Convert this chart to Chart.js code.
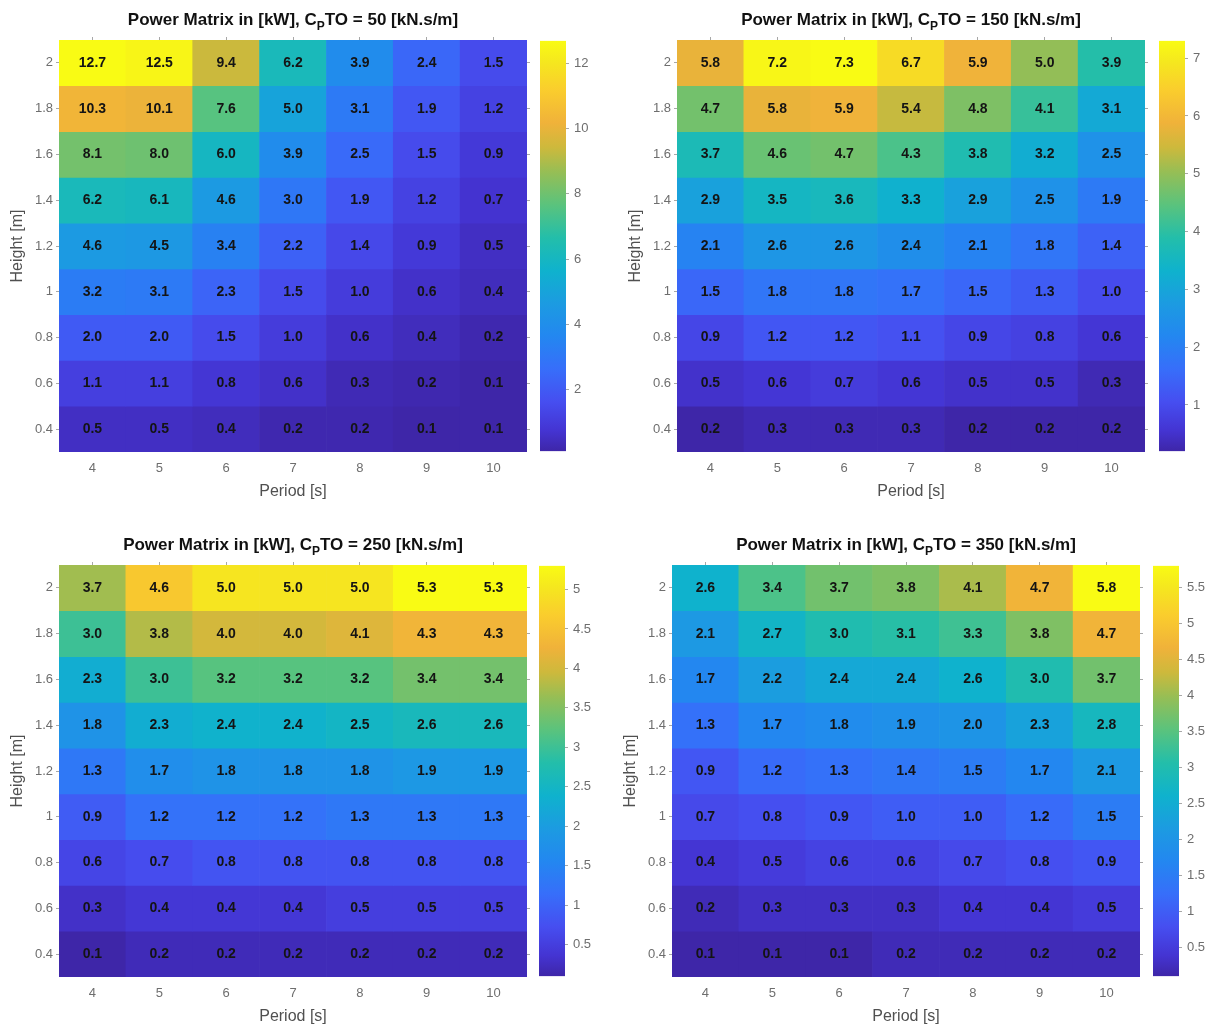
<!DOCTYPE html>
<html>
<head>
<meta charset="utf-8">
<title>Power Matrix</title>
<script src="https://cdn.jsdelivr.net/npm/chart.js@4/dist/chart.umd.min.js"></script>
<style>
  html, body { margin: 0; padding: 0; background: #fff; }
  body { width: 1215px; height: 1026px; position: relative; overflow: hidden; }
  canvas { position: absolute; }
</style>
</head>
<body>
<script>
// --- data (rows go from the top of the matrix down) ---
const periods = [4, 5, 6, 7, 8, 9, 10];
const heights = [2, 1.8, 1.6, 1.4, 1.2, 1, 0.8, 0.6, 0.4];

const power50 = [
  [12.7, 12.5, 9.4, 6.2, 3.9, 2.4, 1.5],
  [10.3, 10.1, 7.6, 5.0, 3.1, 1.9, 1.2],
  [8.1, 8.0, 6.0, 3.9, 2.5, 1.5, 0.9],
  [6.2, 6.1, 4.6, 3.0, 1.9, 1.2, 0.7],
  [4.6, 4.5, 3.4, 2.2, 1.4, 0.9, 0.5],
  [3.2, 3.1, 2.3, 1.5, 1.0, 0.6, 0.4],
  [2.0, 2.0, 1.5, 1.0, 0.6, 0.4, 0.2],
  [1.1, 1.1, 0.8, 0.6, 0.3, 0.2, 0.1],
  [0.5, 0.5, 0.4, 0.2, 0.2, 0.1, 0.1]
];
const power150 = [
  [5.8, 7.2, 7.3, 6.7, 5.9, 5.0, 3.9],
  [4.7, 5.8, 5.9, 5.4, 4.8, 4.1, 3.1],
  [3.7, 4.6, 4.7, 4.3, 3.8, 3.2, 2.5],
  [2.9, 3.5, 3.6, 3.3, 2.9, 2.5, 1.9],
  [2.1, 2.6, 2.6, 2.4, 2.1, 1.8, 1.4],
  [1.5, 1.8, 1.8, 1.7, 1.5, 1.3, 1.0],
  [0.9, 1.2, 1.2, 1.1, 0.9, 0.8, 0.6],
  [0.5, 0.6, 0.7, 0.6, 0.5, 0.5, 0.3],
  [0.2, 0.3, 0.3, 0.3, 0.2, 0.2, 0.2]
];
const power250 = [
  [3.7, 4.6, 5.0, 5.0, 5.0, 5.3, 5.3],
  [3.0, 3.8, 4.0, 4.0, 4.1, 4.3, 4.3],
  [2.3, 3.0, 3.2, 3.2, 3.2, 3.4, 3.4],
  [1.8, 2.3, 2.4, 2.4, 2.5, 2.6, 2.6],
  [1.3, 1.7, 1.8, 1.8, 1.8, 1.9, 1.9],
  [0.9, 1.2, 1.2, 1.2, 1.3, 1.3, 1.3],
  [0.6, 0.7, 0.8, 0.8, 0.8, 0.8, 0.8],
  [0.3, 0.4, 0.4, 0.4, 0.5, 0.5, 0.5],
  [0.1, 0.2, 0.2, 0.2, 0.2, 0.2, 0.2]
];
const power350 = [
  [2.6, 3.4, 3.7, 3.8, 4.1, 4.7, 5.8],
  [2.1, 2.7, 3.0, 3.1, 3.3, 3.8, 4.7],
  [1.7, 2.2, 2.4, 2.4, 2.6, 3.0, 3.7],
  [1.3, 1.7, 1.8, 1.9, 2.0, 2.3, 2.8],
  [0.9, 1.2, 1.3, 1.4, 1.5, 1.7, 2.1],
  [0.7, 0.8, 0.9, 1.0, 1.0, 1.2, 1.5],
  [0.4, 0.5, 0.6, 0.6, 0.7, 0.8, 0.9],
  [0.2, 0.3, 0.3, 0.3, 0.4, 0.4, 0.5],
  [0.1, 0.1, 0.1, 0.2, 0.2, 0.2, 0.2]
];

const cbarTicks50 = [2, 4, 6, 8, 10, 12];
const cbarTicks150 = [1, 2, 3, 4, 5, 6, 7];
const cbarTicks250 = [0.5, 1, 1.5, 2, 2.5, 3, 3.5, 4, 4.5, 5];
const cbarTicks350 = [0.5, 1, 1.5, 2, 2.5, 3, 3.5, 4, 4.5, 5, 5.5];

// parula-like colormap stops
const parulaStops = [
  [0.00, 62, 38, 168], [0.05, 68, 52, 210], [0.12, 70, 78, 240],
  [0.20, 55, 110, 250], [0.28, 35, 135, 240], [0.36, 28, 155, 225],
  [0.44, 15, 178, 205], [0.52, 35, 190, 170], [0.60, 90, 195, 125],
  [0.68, 150, 190, 85], [0.74, 205, 185, 60], [0.80, 240, 178, 58],
  [0.88, 250, 205, 45], [0.95, 245, 232, 30], [1.00, 249, 251, 20]
];

function parula(t) {
  t = Math.max(0, Math.min(1, t));
  for (let i = 1; i < parulaStops.length; i++) {
    const a = parulaStops[i - 1], b = parulaStops[i];
    if (t <= b[0]) {
      const f = (t - a[0]) / (b[0] - a[0]);
      const c = [1, 2, 3].map(k => Math.round(a[k] + (b[k] - a[k]) * f));
      return 'rgb(' + c.join(',') + ')';
    }
  }
  return 'rgb(249,251,20)';
}

const FONT = '"Liberation Sans", Arial, Helvetica, sans-serif';
Chart.defaults.font.family = FONT;

// numbers inside cells
const cellLabels = {
  id: 'cellLabels',
  afterDatasetsDraw(chart) {
    const ctx = chart.ctx;
    ctx.save();
    ctx.font = 'bold 14px ' + FONT;
    ctx.fillStyle = '#141414';
    ctx.textAlign = 'center';
    ctx.textBaseline = 'middle';
    chart.data.datasets.forEach((ds, i) => {
      chart.getDatasetMeta(i).data.forEach((bar, j) => {
        const p = bar.getProps(['x', 'y', 'base'], true);
        ctx.fillText(ds.values[j].toFixed(1), p.x, (p.y + p.base) / 2);
      });
    });
    ctx.restore();
  }
};

// title with the subscript P
const powerTitle = {
  id: 'powerTitle',
  afterDraw(chart, args, opts) {
    const ctx = chart.ctx;
    const a = chart.chartArea;
    const pre = 'Power Matrix in [kW], C', sub = 'P', post = 'TO = ' + opts.cpto + ' [kN.s/m]';
    ctx.save();
    ctx.fillStyle = '#111';
    ctx.textBaseline = 'alphabetic';
    ctx.textAlign = 'left';
    ctx.font = 'bold 17px ' + FONT;
    const w1 = ctx.measureText(pre).width, w3 = ctx.measureText(post).width;
    ctx.font = 'bold 12px ' + FONT;
    const w2 = ctx.measureText(sub).width;
    const x = (a.left + a.right) / 2 - (w1 + w2 + w3) / 2;
    const y = a.top - 15;
    ctx.font = 'bold 17px ' + FONT;
    ctx.fillText(pre, x, y);
    ctx.font = 'bold 12px ' + FONT;
    ctx.fillText(sub, x + w1, y + 5);
    ctx.font = 'bold 17px ' + FONT;
    ctx.fillText(post, x + w1 + w2, y);
    ctx.restore();
  }
};

function addCanvas(left, top, w, h) {
  const c = document.createElement('canvas');
  c.width = w; c.height = h;
  c.style.left = left + 'px'; c.style.top = top + 'px';
  c.style.width = w + 'px'; c.style.height = h + 'px';
  document.body.appendChild(c);
  return c;
}

const rowStep = heights[0] - heights[1];
const yMin = Math.min(...heights) - rowStep / 2;
const yMax = Math.max(...heights) + rowStep / 2;
const tickColor = '#a8a8a8';
const labelColor = '#6e6e6e';
const titleColor = '#505050';

function heightTicks(s) { s.ticks = heights.map(v => ({ value: v })); }

function makePanel(matrix, cpto, cbarTicks, left, top, cbarLeft) {
  const flat = matrix.flat();
  const vmin = Math.min(...flat), vmax = Math.max(...flat);

  const datasets = heights.map((h, i) => ({
    label: String(h),
    data: matrix[i].map(() => [h - rowStep / 2, h + rowStep / 2]),
    values: matrix[i],
    backgroundColor: matrix[i].map(v => parula((v - vmin) / (vmax - vmin))),
    borderWidth: 0,
    barPercentage: 1,
    categoryPercentage: 1
  }));

  new Chart(addCanvas(left, top, 531, 501), {
    type: 'bar',
    data: { labels: periods.map(String), datasets },
    options: {
      responsive: false,
      animation: false,
      layout: { padding: { top: 36, left: 0, right: 0, bottom: 0 } },
      plugins: {
        legend: { display: false },
        tooltip: { enabled: false },
        powerTitle: { cpto }
      },
      scales: {
        x: {
          stacked: true,
          ticks: { color: labelColor, font: { size: 13 }, padding: 6 },
          grid: { drawOnChartArea: false, color: 'rgba(0,0,0,0)', tickLength: 3 },
          border: { display: false },
          title: { display: true, text: 'Period [s]', color: titleColor, font: { size: 16 }, padding: { top: 0, bottom: 0 } },
          afterFit: s => { s.height = 49; }
        },
        x2: {
          type: 'category',
          labels: periods.map(String),
          position: 'top',
          offset: true,
          ticks: { display: false },
          grid: { drawOnChartArea: false, offset: false, color: tickColor, tickLength: 3 },
          border: { display: false },
          afterFit: s => { s.height = 4; }
        },
        y: {
          min: yMin, max: yMax,
          afterBuildTicks: heightTicks,
          ticks: { color: labelColor, font: { size: 13 }, padding: 3, callback: v => String(v) },
          grid: { drawOnChartArea: false, color: tickColor, tickLength: 3 },
          border: { display: false },
          title: { display: true, text: 'Height [m]', color: titleColor, font: { size: 16 }, padding: { top: 8, bottom: 0 } },
          afterFit: s => { s.width = 59; }
        },
        y2: {
          type: 'linear',
          position: 'right',
          min: yMin, max: yMax,
          afterBuildTicks: heightTicks,
          ticks: { display: false },
          grid: { drawOnChartArea: false, color: tickColor, tickLength: 3 },
          border: { display: false },
          afterFit: s => { s.width = 4; }
        }
      }
    },
    plugins: [cellLabels, powerTitle]
  });

  // colorbar
  new Chart(addCanvas(cbarLeft, top + 28, 70, 436), {
    type: 'bar',
    data: {
      labels: [''],
      datasets: [{
        data: [[vmin, vmax]],
        backgroundColor: c => {
          const a = c.chart.chartArea;
          if (!a) return 'rgba(0,0,0,0)';
          const g = c.chart.ctx.createLinearGradient(0, a.bottom, 0, a.top);
          parulaStops.forEach(s => g.addColorStop(s[0], 'rgb(' + s[1] + ',' + s[2] + ',' + s[3] + ')'));
          return g;
        },
        borderWidth: 0,
        barPercentage: 1,
        categoryPercentage: 1
      }]
    },
    options: {
      responsive: false,
      animation: false,
      layout: { padding: { top: 10, bottom: 10, left: 0, right: 0 } },
      plugins: { legend: { display: false }, tooltip: { enabled: false } },
      scales: {
        x: { display: false },
        y: {
          position: 'right',
          min: vmin, max: vmax,
          afterBuildTicks: s => { s.ticks = cbarTicks.map(v => ({ value: v })); },
          ticks: { color: labelColor, font: { size: 13 }, padding: 5, callback: v => String(v) },
          grid: { drawOnChartArea: false, color: tickColor, tickLength: 3 },
          border: { display: false },
          afterFit: s => { s.width = 44; }
        }
      }
    }
  });
}

makePanel(power50, 50, cbarTicks50, 0, 0, 540);
makePanel(power150, 150, cbarTicks150, 618, 0, 1159);
makePanel(power250, 250, cbarTicks250, 0, 525, 539);
makePanel(power350, 350, cbarTicks350, 613, 525, 1153);
</script>
</body>
</html>
